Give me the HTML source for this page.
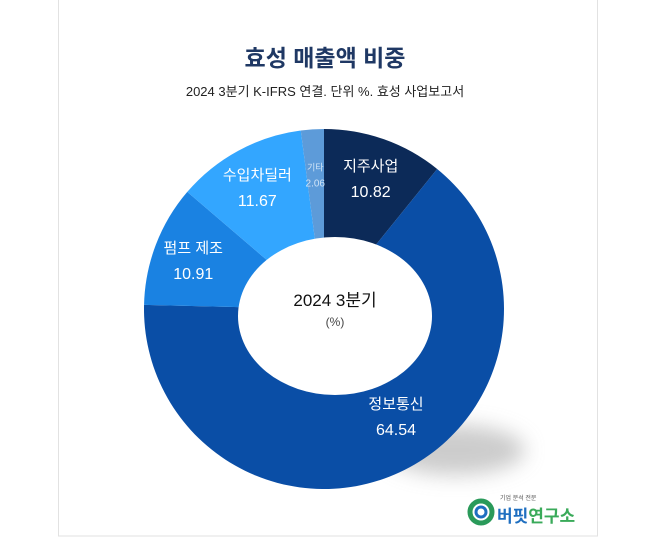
<!DOCTYPE html>
<html><head><meta charset="utf-8"><style>
body{margin:0;background:#fff;}
svg text{font-family:"Liberation Sans","Noto Sans CJK KR",sans-serif;}
</style></head><body>
<svg width="650" height="537" viewBox="0 0 650 537">
<defs><filter id="blur" x="-50%" y="-50%" width="200%" height="200%"><feGaussianBlur stdDeviation="10"/></filter></defs>
<rect x="58.5" y="-1" width="539" height="537" fill="#fff" stroke="#e2e2e2"/>
<text x="325" y="66" text-anchor="middle" font-size="23" font-weight="bold" fill="#1f3864">효성 매출액 비중</text>
<text x="325" y="96" text-anchor="middle" font-size="13" fill="#222">2024 3분기 K-IFRS 연결. 단위 %. 효성 사업보고서</text>
<ellipse cx="455" cy="450" rx="70" ry="25" fill="#aaa" opacity="0.6" filter="url(#blur)"/>
<g id="slices"></g>
<ellipse cx="335" cy="316" rx="97" ry="79" fill="#fff"/>
<text x="335" y="306" text-anchor="middle" font-size="17" fill="#111">2024 3분기</text>
<text x="335" y="326" text-anchor="middle" font-size="12" fill="#444">(%)</text>
<g>
<circle cx="481" cy="512" r="11" fill="none" stroke="#2a9a5a" stroke-width="5"/>
<circle cx="481" cy="512" r="5" fill="none" stroke="#1f6fc0" stroke-width="3"/>
<text x="500" y="500" font-size="6" fill="#555">기업 분석 전문</text>
<text x="497" y="522" font-size="17" font-weight="bold" fill="#1f6fc0">버핏<tspan fill="#3aaa5a">연구소</tspan></text>
</g>
</svg>
<script>
const categories=["지주사업","정보통신","펌프 제조","수입차딜러","기타"];
const values=[10.82,64.54,10.91,11.67,2.06];
const valueLabels=["10.82","64.54","10.91","11.67","2.06"];
const colors=["#0c2a58","#0a4ea6","#1a82e2","#33a6ff","#5d9bd9"];
const cx=324,cy=309,R=180;
const g=document.getElementById('slices');
const ns='http://www.w3.org/2000/svg';
const total=values.reduce((a,b)=>a+b,0);
function pt(a,r){return [cx+r*Math.sin(a),cy-r*Math.cos(a)];}
let acc=0;
values.forEach((v,i)=>{
  const a0=acc/total*2*Math.PI; acc+=v; const a1=acc/total*2*Math.PI;
  const p0=pt(a0,R),p1=pt(a1,R);
  const large=(a1-a0)>Math.PI?1:0;
  const p=document.createElementNS(ns,'path');
  p.setAttribute('d',`M${cx},${cy}L${p0[0]},${p0[1]}A${R},${R} 0 ${large} 1 ${p1[0]},${p1[1]}Z`);
  p.setAttribute('fill',colors[i]);
  
  
  g.appendChild(p);
  const mid=(a0+a1)/2;
  let lr=i===4?135:(i===1?150:140);
  let lp=pt(mid,lr);
  if(i===1){lp=[cx+72,cy+106];}
  const small=i===4;
  const t1=document.createElementNS(ns,'text');
  t1.setAttribute('x',lp[0]);t1.setAttribute('y',lp[1]-(small?4:6));
  t1.setAttribute('text-anchor','middle');t1.setAttribute('font-size',small?9:15);
  t1.setAttribute('fill',small?'#cfe3f7':'#fff');
  t1.textContent=categories[i];
  
  
  g.appendChild(t1);
  const t2=document.createElementNS(ns,'text');
  t2.setAttribute('x',lp[0]);t2.setAttribute('y',lp[1]+(small?12:20));
  t2.setAttribute('text-anchor','middle');t2.setAttribute('font-size',small?10:16);
  t2.setAttribute('fill',small?'#cfe3f7':'#fff');
  t2.textContent=valueLabels[i];
  
  
  g.appendChild(t2);
});
</script>
</body></html>
